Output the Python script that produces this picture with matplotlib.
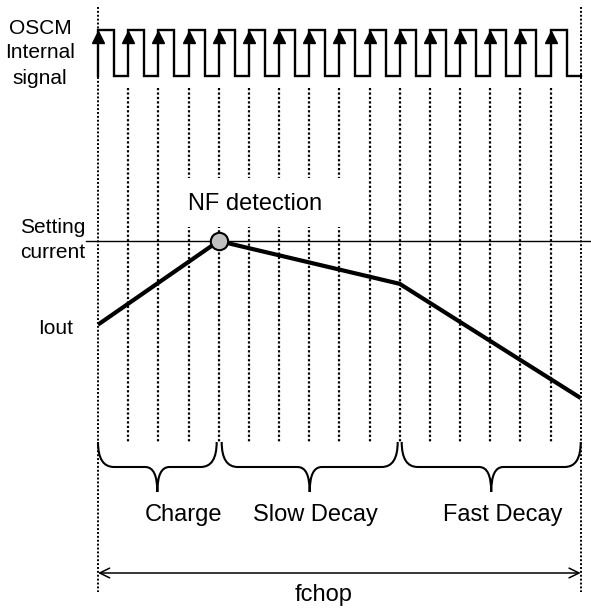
import matplotlib
matplotlib.use("Agg")
import matplotlib.pyplot as plt
from matplotlib.path import Path
from matplotlib.patches import PathPatch, Rectangle, ArrowStyle

plt.rcParams['font.family'] = ['Liberation Sans', 'DejaVu Sans']

# time in clock periods, current relative to the setting current
n_periods = 16
duty = 0.53
iout_t = [0, 4, 10, 16]
iout_level = [0.59, 1.0, 0.79, 0.23]
setting_level = 1.0
nf_t = 4
phase_names = ['Charge', 'Slow Decay', 'Fast Decay']
phase_bounds = [0, 4, 10, 16]

# layout (pixels)
W, H = 591, 610
X0, PER = 98, 30.17
Y0, UNIT = 445, 204


def px(x):
    return (x - X0) / PER


def py(y):
    return (Y0 - y) / UNIT


fig = plt.figure(figsize=(W / 100, H / 100), dpi=100)
ax = fig.add_axes([0, 0, 1, 1])
ax.set_xlim(px(0), px(W))
ax.set_ylim(py(H), py(0))
ax.axis('off')

dot = (0, (1.0, 1.0))

# clock signal
hi, lo = py(30), py(76)
xs, ys = [], []
for k in range(n_periods):
    xs += [k, k, k + duty, k + duty]
    ys += [lo, hi, hi, lo]
xs.append(n_periods)
ys.append(lo)
ax.plot(xs, ys, color='k', lw=1.7, solid_joinstyle='miter', zorder=3)
ax.plot(range(n_periods), [py(36.5)] * n_periods, ls='none', marker='^',
        ms=9, color='k', zorder=4)

# dotted grid
for k in range(n_periods + 1):
    if k in (0, n_periods):
        ax.plot([k, k], [py(7), py(592)], color='k', lw=1.4, ls=dot, zorder=1)
    else:
        ax.plot([k, k], [py(88), py(443)], color='k', lw=1.6, ls=dot, zorder=1)

# label box covering grid
ax.add_patch(Rectangle((px(160), py(227)), px(345) - px(160), py(178) - py(227),
                       facecolor='white', edgecolor='none', zorder=2))
ax.text(px(255), py(204), 'NF detection', fontsize=17, ha='center', va='center', zorder=5)

# setting current and Iout
ax.plot([px(86), px(W)], [setting_level, setting_level], color='k', lw=1.0, zorder=3)
ax.plot(iout_t, iout_level, color='k', lw=3.0, solid_capstyle='butt', zorder=4)
ax.plot([nf_t], [setting_level], marker='o', ms=12.5, mfc='#c0c0c0', mec='k',
        mew=1.5, zorder=6)

# left labels
ax.text(px(40), py(53), 'OSCM\nInternal\nsignal', fontsize=15, ha='center', va='center',
        linespacing=1.4)
ax.text(px(53), py(240), 'Setting\ncurrent', fontsize=15, ha='center', va='center',
        linespacing=1.4)
ax.text(px(56), py(329), 'Iout', fontsize=15, ha='center', va='center')


# braces
def brace(xa, xb, yt=442, ym=467, yp=492, r=16, r2=12):
    xc = (xa + xb) / 2
    verts = [(xa, yt), (xa, ym), (xa + r, ym),
             (xc - r2, ym), (xc, ym), (xc, yp),
             (xc, ym), (xc + r2, ym),
             (xb - r, ym), (xb, ym), (xb, yt)]
    codes = [Path.MOVETO, Path.CURVE3, Path.CURVE3,
             Path.LINETO, Path.CURVE3, Path.CURVE3,
             Path.CURVE3, Path.CURVE3,
             Path.LINETO, Path.CURVE3, Path.CURVE3]
    verts = [(px(x), py(y)) for x, y in verts]
    ax.add_patch(PathPatch(Path(verts, codes), fill=False, lw=1.5, zorder=3))


insets = [(0, -2), (3, -2), (2, 0)]
for (a, b), (ia, ib) in zip(zip(phase_bounds[:-1], phase_bounds[1:]), insets):
    brace(X0 + a * PER + ia, X0 + b * PER + ib)

label_x = [184, 315, 503]
for name, lx in zip(phase_names, label_x):
    ax.text(px(lx), py(521.5), name, fontsize=17, ha='center', va='baseline')

# fchop arrow
ax.annotate('', xy=(n_periods, py(573)), xytext=(0, py(573)),
            arrowprops=dict(arrowstyle=ArrowStyle('<->', head_length=0.55, head_width=0.27),
                            mutation_scale=13, lw=1.1, color='k',
                            shrinkA=0, shrinkB=0))
ax.text(px(324), py(601), 'fchop', fontsize=17, ha='center', va='baseline')

fig.savefig('out.png', dpi=100)
